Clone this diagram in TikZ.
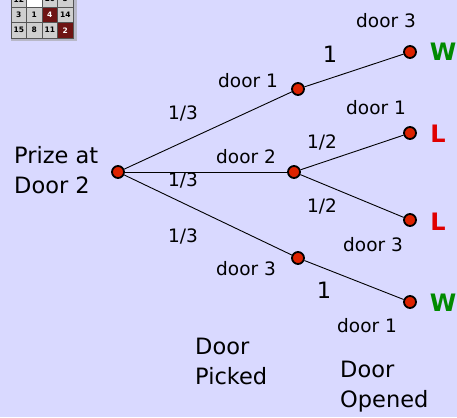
\documentclass[tikz,border=0pt]{standalone}
\usepackage{fontspec}
\setmainfont{DejaVu Sans}
\definecolor{SlideLilac}{HTML}{D9D9FF}
\definecolor{DotRed}{HTML}{DD2200}
\definecolor{WinGreen}{HTML}{008A00}
\definecolor{LoseRed}{HTML}{E00000}
\definecolor{TileGray}{HTML}{CFCFCF}
\definecolor{TileEdge}{HTML}{555555}
\definecolor{TileRed}{HTML}{6E1414}
\definecolor{FrameGray}{HTML}{B8B8C8}

\tikzset{
  dot/.style={circle,fill=DotRed,draw=black,line width=1.8pt,minimum size=12pt,inner sep=0pt},
  branch/.style={line width=0.9pt},
  small/.style={font=\fontsize{18.5}{20}\selectfont,inner sep=0pt},
  big/.style={font=\fontsize{22.5}{30}\selectfont,align=left,inner sep=0pt},
  outcome/.style={font=\fontsize{24}{26}\selectfont\bfseries,inner sep=0pt},
  tile/.style={draw=TileEdge,line width=0.8pt,minimum size=15.5pt,inner sep=0pt,font=\fontsize{7.5}{8}\selectfont\bfseries},
}

\begin{document}
\begin{tikzpicture}[x=1pt,y=1pt]
  \fill[SlideLilac] (0,0) rectangle (457,417);
  \useasboundingbox (0,0) rectangle (457,417);
  \clip (0,0) rectangle (457,417);
  % puzzle tiles in the corner
  \fill[FrameGray] (11,375.5) rectangle (76.5,420);
  \foreach \x/\y/\num/\bg/\fg/\id in {18.75/417.75/12/TileGray/black/a1,34.25/417.75/{}/white/black/a2,49.75/417.75/10/TileGray/black/a3,65.25/417.75/5/TileGray/black/a4,
      18.75/402.25/3/TileGray/black/b1,34.25/402.25/1/TileGray/black/b2,49.75/402.25/4/TileRed/white/b3,65.25/402.25/14/TileGray/black/b4,
      18.75/386.75/15/TileGray/black/c1,34.25/386.75/8/TileGray/black/c2,49.75/386.75/11/TileGray/black/c3,65.25/386.75/2/TileRed/white/c4}
    \node[tile,fill=\bg,text=\fg] (tile-\id) at (\x,\y) {\num};
  % tree
  \node[dot] (root) at (118,245) {};
  \node[dot] (pick1) at (298,328) {};
  \node[dot] (pick2) at (294,245) {};
  \node[dot] (pick3) at (298,159) {};
  \node[dot] (open13) at (410,365) {};
  \node[dot] (open21) at (410,284) {};
  \node[dot] (open23) at (410,197) {};
  \node[dot] (open31) at (410,115) {};
  \foreach \a/\b in {root/pick1,root/pick2,root/pick3,pick1/open13,pick2/open21,pick2/open23,pick3/open31}
    \draw[branch] (\a) -- (\b);
  % labels
  \node[big,anchor=west] (prize) at (14,247) {Prize at\\Door 2};
  \node[small] (lbl-p1) at (248,336) {door 1};
  \node[small] (lbl-p2) at (246,260) {door 2};
  \node[small] (lbl-p3) at (246,148) {door 3};
  \node[small] (prob-p1) at (183,304) {1/3};
  \node[small] (prob-p2) at (183,237) {1/3};
  \node[small] (prob-p3) at (183,181) {1/3};
  \node[small] (lbl-o13) at (386,396) {door 3};
  \node[small] (lbl-o21) at (376,309) {door 1};
  \node[small] (lbl-o23) at (373,172) {door 3};
  \node[small] (lbl-o31) at (367,91) {door 1};
  \node[big] (prob-o13) at (330,363) {1};
  \node[small] (prob-o21) at (322,275) {1/2};
  \node[small] (prob-o23) at (322,211) {1/2};
  \node[big] (prob-o31) at (324,127) {1};
  \node[outcome,text=WinGreen] (res13) at (443,365) {W};
  \node[outcome,text=LoseRed] (res21) at (438,283) {L};
  \node[outcome,text=LoseRed] (res23) at (438,195) {L};
  \node[outcome,text=WinGreen] (res31) at (443,114) {W};
  \node[big,anchor=west] (picked) at (195,56) {Door\\Picked};
  \node[big,anchor=west] (opened) at (340,30) {Door\\Opened};
\end{tikzpicture}
\end{document}
